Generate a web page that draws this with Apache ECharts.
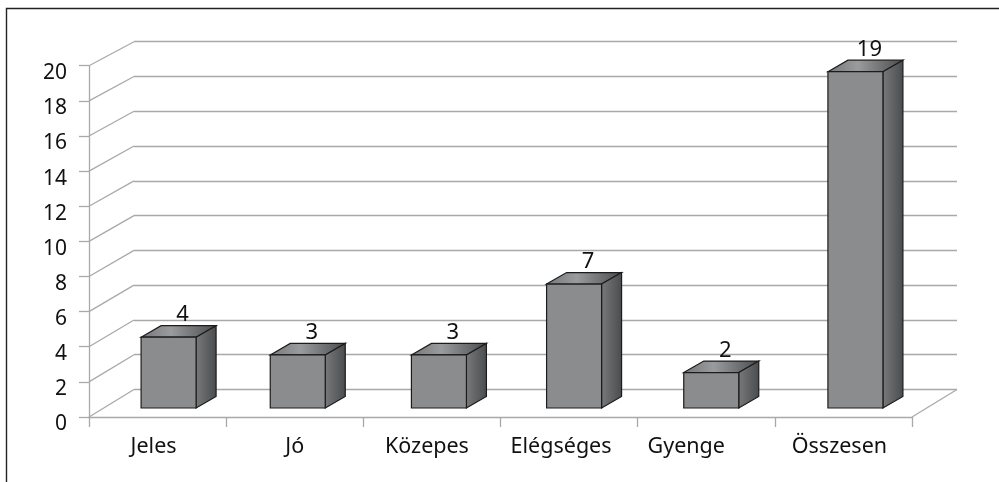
<!DOCTYPE html>
<html>
<head>
<meta charset="utf-8">
<title>Jegyek</title>
<style>
	html, body { margin: 0; padding: 0; background: #fff; }
	#chart { width: 999px; height: 482px; }
</style>
<script src="https://cdn.jsdelivr.net/npm/echarts@6/dist/echarts.min.js"></script>
</head>
<body>
<div id="chart"></div>
<script>
var categories = ['Jeles', 'Jó', 'Közepes', 'Elégséges', 'Gyenge', 'Összesen'];
var values = [4, 3, 3, 7, 2, 19];
var yTicks = [0, 2, 4, 6, 8, 10, 12, 14, 16, 18, 20];

// the picture is not quite regular, these shift bars and labels sideways in px
var barNudge = [4, -4, 0, -2, -2, 5];
var labelNudge = [-4, 0, -5, -8, -20, -4];

var fontName = '"Noto Sans", sans-serif';
var gridColor = '#a9a9a9';
var edgeColor = '#1c1c1c';
var barWidth = 55;
var depthX = 20;
var depthY = 11.5;

function renderWall(params, api) {
	var v = api.value(0);
	var back = api.coord([0, v]);
	var dy = 24 + 3.5 * (1 - v / 20);
	var children = [{
		type: 'line',
		shape: { x1: back[0] - 45, y1: back[1] + dy, x2: back[0], y2: back[1] },
		style: { stroke: gridColor, lineWidth: 1.3 }
	}];
	if (v === 0) {
		var right = api.coord([1, 0]);
		children.push({
			type: 'line',
			shape: { x1: right[0] - 45, y1: right[1] + dy, x2: right[0], y2: right[1] },
			style: { stroke: gridColor, lineWidth: 1.3 }
		});
	}
	return { type: 'group', children: children };
}

function renderBar(params, api) {
	var i = api.value(0);
	var top = api.coord([i, api.value(1)]);
	var base = api.coord([i, 0]);
	var x = top[0] + barNudge[i] - barWidth / 2;
	var y = top[1];
	var r = x + barWidth;
	var b = base[1];
	return {
		type: 'group',
		children: [{
			type: 'polygon',
			shape: { points: [[x, y], [x + depthX, y - depthY], [r + depthX, y - depthY], [r, y]] },
			style: {
				stroke: edgeColor,
				lineWidth: 1.2,
				fill: new echarts.graphic.LinearGradient(0, 0, 1, 0, [
					{ offset: 0, color: '#76777a' },
					{ offset: 0.4, color: '#9a9b9d' },
					{ offset: 1, color: '#4b4c4e' }
				])
			}
		}, {
			type: 'polygon',
			shape: { points: [[r, y], [r + depthX, y - depthY], [r + depthX, b - depthY], [r, b]] },
			style: {
				stroke: edgeColor,
				lineWidth: 1.2,
				fill: new echarts.graphic.LinearGradient(0, 0, 1, 0, [
					{ offset: 0, color: '#797a7c' },
					{ offset: 1, color: '#4a4b4d' }
				])
			}
		}, {
			type: 'rect',
			shape: { x: x, y: y, width: barWidth, height: b - y },
			style: { stroke: edgeColor, lineWidth: 1.2, fill: '#8b8c8e' }
		}, {
			type: 'text',
			style: {
				text: String(api.value(1)),
				x: x + barWidth / 2 + 14,
				y: y - 22,
				align: 'center',
				verticalAlign: 'middle',
				font: '22px ' + fontName,
				fill: '#111'
			}
		}]
	};
}

function renderCategory(params, api) {
	var i = api.value(0);
	var p = api.coord([i, 0]);
	return {
		type: 'text',
		style: {
			text: categories[i],
			x: p[0] + labelNudge[i],
			y: p[1] + 30,
			align: 'center',
			verticalAlign: 'middle',
			font: '21.5px ' + fontName,
			fill: '#111'
		}
	};
}

var chart = echarts.init(document.getElementById('chart'), null, { renderer: 'canvas' });
chart.setOption({
	animation: false,
	backgroundColor: '#fff',
	// front plane (axes), bar plane, back wall
	grid: [
		{ left: 89, top: 65.7, width: 823, height: 351.3 },
		{ left: 96, top: 54, width: 823, height: 354 },
		{ left: 134, top: 41.7, width: 823, height: 347.8 }
	],
	xAxis: [
		{
			type: 'category',
			gridIndex: 0,
			data: categories,
			axisLine: { lineStyle: { color: gridColor, width: 1.3 } },
			axisTick: { show: true, length: 10, lineStyle: { color: gridColor, width: 1.3 } },
			axisLabel: { show: false }
		},
		{ type: 'category', gridIndex: 1, data: categories, show: false },
		{ type: 'value', gridIndex: 2, min: 0, max: 1, show: false }
	],
	yAxis: [
		{
			type: 'value',
			gridIndex: 0,
			min: 0,
			max: 20,
			interval: 2,
			axisLine: { show: true, lineStyle: { color: gridColor, width: 1.3 } },
			axisTick: { show: true, length: 10, lineStyle: { color: gridColor, width: 1.3 } },
			axisLabel: {
				fontFamily: fontName,
				fontSize: 21,
				color: '#111',
				margin: 22,
				verticalAlign: 'top',
				lineHeight: 15
			},
			splitLine: { show: false }
		},
		{ type: 'value', gridIndex: 1, min: 0, max: 20, interval: 2, show: false },
		{
			type: 'value',
			gridIndex: 2,
			min: 0,
			max: 20,
			interval: 2,
			axisLine: { show: false },
			axisTick: { show: false },
			axisLabel: { show: false },
			splitLine: { show: true, lineStyle: { color: gridColor, width: 1.3 } }
		}
	],
	graphic: [
		{
			type: 'polyline',
			silent: true,
			shape: { points: [[6.5, 482], [6.5, 8.5], [999, 8.5]] },
			style: { stroke: '#222', lineWidth: 1.4, fill: null }
		}
	],
	series: [
		{
			type: 'custom',
			xAxisIndex: 2,
			yAxisIndex: 2,
			z: 1,
			silent: true,
			data: yTicks.map(function (v) { return [v]; }),
			encode: { y: 0 },
			renderItem: renderWall
		},
		{
			type: 'custom',
			xAxisIndex: 1,
			yAxisIndex: 1,
			z: 5,
			silent: true,
			data: values.map(function (v, i) { return [i, v]; }),
			encode: { x: 0, y: 1 },
			renderItem: renderBar
		},
		{
			type: 'custom',
			xAxisIndex: 0,
			yAxisIndex: 0,
			z: 6,
			silent: true,
			data: categories.map(function (c, i) { return [i, 0]; }),
			encode: { x: 0, y: 1 },
			renderItem: renderCategory
		}
	]
});
</script>
</body>
</html>
